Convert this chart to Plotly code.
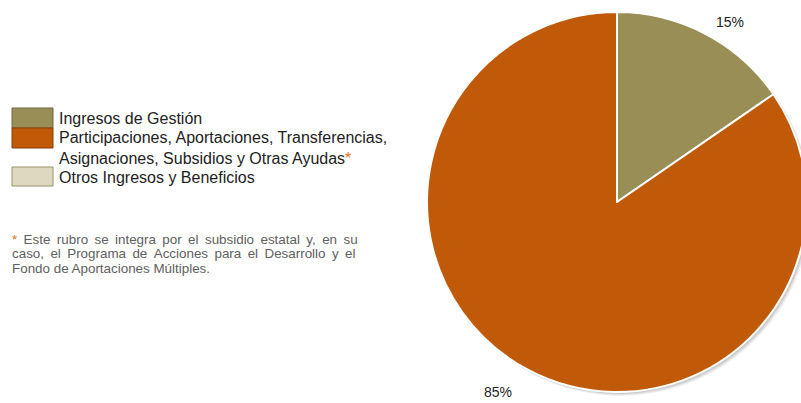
import plotly.graph_objects as go

categories = [
    "Ingresos de Gestión",
    "Participaciones, Aportaciones, Transferencias,<br>Asignaciones, Subsidios y Otras Ayudas",
    "Otros Ingresos y Beneficios",
]
values = [15.4, 84.6, 0]
colors = ["#9A8E57", "#C05A08", "#DDD8C0"]
borders = ["#6E6640", "#8A3F05", "#9A9470"]

note_lines = [
    "* Este rubro se integra por el subsidio estatal y, en su",
    "caso, el Programa de Acciones para el Desarrollo y el",
    "Fondo de Aportaciones Múltiples.",
]
justify = [True, True, False]

W, H = 815, 403
FONT = "Liberation Sans, Arial, sans-serif"

total = sum(values)

fig = go.Figure()

# soft shadow under the pie
for off, alpha in [(4, 0.05), (3, 0.07), (2, 0.09)]:
    fig.add_trace(
        go.Pie(
            values=[total],
            marker=dict(colors=[f"rgba(0,0,0,{alpha})"], line=dict(width=0)),
            textinfo="none",
            hoverinfo="skip",
            showlegend=False,
            domain=dict(
                x=[(427 + off) / W, (807 + off) / W],
                y=[1 - (392 + off) / H, 1 - (12 + off) / H],
            ),
        )
    )

fig.add_trace(
    go.Pie(
        labels=categories,
        values=values,
        sort=False,
        direction="clockwise",
        rotation=0,
        marker=dict(colors=colors, line=dict(color="white", width=2)),
        textinfo="none",
        hoverinfo="label+percent",
        showlegend=False,
        domain=dict(x=[427 / W, 807 / W], y=[1 - 392 / H, 1 - 12 / H]),
    )
)

# percentage labels (like the original, placed outside the pie)
label_pos = [(730, 22), (498, 392)]
for v, (px, py) in zip(values[:2], label_pos):
    fig.add_annotation(
        x=px / W, y=1 - py / H, xref="paper", yref="paper",
        text=f"{v / total:.0%}", showarrow=False,
        xanchor="center", yanchor="middle",
        font=dict(size=14, color="#222222", family=FONT),
    )

# custom legend
boxes = [(108, 128), (128, 148), (167, 186)]
text_y = [118, 148, 177]
for (y0, y1), c, b, name, ty in zip(boxes, colors, borders, categories, text_y):
    fig.add_shape(
        type="rect", xref="paper", yref="paper",
        x0=12 / W, x1=53 / W, y0=1 - y1 / H, y1=1 - y0 / H,
        fillcolor=c, line=dict(color=b, width=1),
    )
    if "Asignaciones" in name:
        name = name + "<span style='color:#E07020'>*</span>"
    fig.add_annotation(
        x=57 / W, y=1 - ty / H, xref="paper", yref="paper",
        text=name, showarrow=False, xanchor="left", yanchor="middle",
        align="left", font=dict(size=16, color="#222222", family=FONT),
    )

# footnote (justified lines get a thin space added to each gap)
for i, (line, j) in enumerate(zip(note_lines, justify)):
    if j:
        line = line.replace(" ", " \u2009")
    line = line.replace("*", "<span style='color:#E07020'>*</span>", 1)
    fig.add_annotation(
        x=10 / W, y=1 - (240 + 14 * i) / H, xref="paper", yref="paper",
        text=line, showarrow=False, xanchor="left", yanchor="middle",
        align="left", font=dict(size=13.4, color="#606060", family=FONT),
    )

fig.update_layout(
    width=W,
    height=H,
    margin=dict(l=0, r=0, t=0, b=0),
    paper_bgcolor="white",
    plot_bgcolor="white",
)

fig.write_html(
    "out.html",
    config={"displayModeBar": False},
    post_script=(
        "document.body.style.margin='0';"
        "document.body.style.overflow='hidden';"
        "document.documentElement.style.overflow='hidden';"
    ),
)
